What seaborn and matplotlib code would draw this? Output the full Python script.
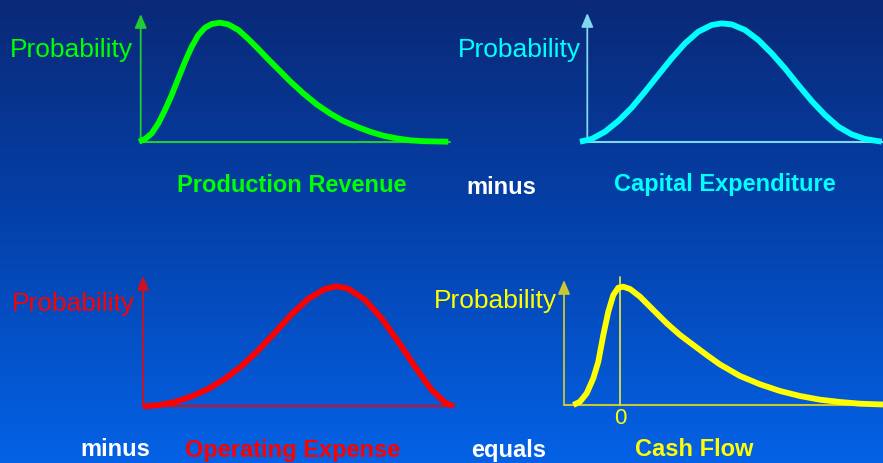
import numpy as np
import matplotlib
matplotlib.use("Agg")
import matplotlib.pyplot as plt
from matplotlib.colors import LinearSegmentedColormap
import seaborn as sns
import pandas as pd

sns.set_theme(style="white")
plt.rcParams['font.family'] = ['Liberation Sans', 'DejaVu Sans']

# ---------------- data ----------------
# Production Revenue (green)
rev_x = [-1.7, 4.3, 11, 17.6, 24.3, 31, 37.6, 44.3, 51, 57.6, 64.3, 71, 79.3, 87.6, 97.6, 107.6,
         117.6, 127.6, 137.6, 149.3, 162.6, 176, 189.3, 202.6, 216, 229.3, 242.6, 256, 269.3, 282.6, 307.6]
rev_y = [0, 2.7, 8.3, 18.3, 31.7, 46.7, 63.3, 80, 95, 106.7, 114, 117.7, 119, 117.3, 111.7, 102.7,
         92.7, 82.3, 72.3, 60.5, 48.3, 37.3, 28.3, 20.7, 15, 10, 6, 3.3, 1.4, 0.5, 0]

# Capital Expenditure (cyan)
cap_x = [-7.3, 4.4, 17.7, 31, 44.4, 57.7, 71, 84.4, 97.7, 111, 124.4, 134.4, 144.4, 157.7, 171,
         184.4, 197.7, 211, 224.4, 237.7, 251, 264.4, 277.7, 294.4]
cap_y = [0, 2.7, 10, 20.7, 34, 50, 66.7, 83.3, 98.3, 110, 116.7, 118.3, 117.3, 111.7, 101.7,
         88.3, 73.3, 56.7, 40.7, 26.7, 15, 7.3, 2.7, 0]

# Operating Expense (red)
opx_x = [0, 15, 31.7, 48.3, 65, 81.7, 98.3, 115, 131.7, 148.3, 165, 181.7, 193.3, 205, 221.7,
         238.3, 255, 271.7, 288.3, 301.7, 310]
opx_y = [0, 1, 4.3, 9.7, 17.3, 27.3, 40, 55.7, 73.3, 91.7, 107.3, 117.3, 120, 117.7, 106.7,
         88.3, 65, 40, 16.7, 4, 0]

# Cash Flow (yellow); the zero of cash flow sits at cf_zero
cf_x = [9.3, 16, 22.7, 29.3, 34.3, 39.3, 44.3, 49.3, 54.3, 59.3, 66, 76, 89.3, 102.7, 116, 129.3,
        142.7, 156, 176, 196, 216, 236, 256, 276, 296, 319]
cf_y = [0, 3.3, 11.7, 26.7, 43.3, 70, 93.3, 110, 117.3, 118.3, 116, 108.3, 95, 81.7, 70, 60,
        50, 40.5, 29, 20.7, 14, 9, 5.3, 3, 1.3, 0.5]
cf_zero = 56.3

labels = ["Production Revenue", "Capital Expenditure", "Operating Expense", "Cash Flow"]
ops = ["minus", "minus", "equals"]

W, H = 883, 463
fig = plt.figure(figsize=(W / 100, H / 100), dpi=100)

# background gradient
bg = fig.add_axes([0, 0, 1, 1])
cmap = LinearSegmentedColormap.from_list("bg", ["#0a2977", "#0442ad", "#0562e6"])
bg.imshow(np.linspace(0, 1, 256).reshape(-1, 1), aspect="auto", cmap=cmap,
          extent=[0, 1, 0, 1], origin="upper")
bg.set_axis_off()


def px_axes(left, top, right, bottom):
    return fig.add_axes([left / W, 1 - bottom / H, (right - left) / W, (bottom - top) / H])


def panel(box, x, y, color, axcolor, ymax, xmin=0):
    ax = px_axes(*box)
    ax.set_facecolor("none")
    df = pd.DataFrame({"x": x, "y": y})
    sns.lineplot(data=df, x="x", y="y", ax=ax, color=color, lw=4.2, estimator=None,
                 sort=False, clip_on=False, solid_capstyle="butt", solid_joinstyle="round", zorder=5)
    xmax = box[2] - box[0] + xmin
    ax.set_xlim(xmin, xmax)
    ax.set_ylim(0, ymax)
    ax.axhline(0, color=axcolor, lw=1.5, zorder=2, clip_on=False)
    ax.annotate("", xy=(0, ymax), xytext=(0, 0), xycoords="data",
                arrowprops=dict(arrowstyle="-|>,head_length=0.7,head_width=0.3",
                                color=axcolor, lw=1.3, shrinkA=0, shrinkB=0),
                annotation_clip=False)
    ax.set_axis_off()
    return ax


# panels: box = (left, top, right, bottom) in pixels
panel((140.7, 14, 450, 141.7), rev_x, rev_y, "#00ff00", "#22cc33", 127.7)
panel((587.3, 13, 883, 141.7), cap_x, cap_y, "#00ffff", "#7fd8f0", 128.7)
panel((143, 276, 455, 406.3), opx_x, opx_y, "#ff0000", "#d01020", 130.3)
axcf = panel((564, 280, 883, 405), cf_x, cf_y, "#ffff00", "#c8c832", 125, xmin=0)
axcf.plot([cf_zero, cf_zero], [0, 128.3], color="#e0e040", lw=1.3, clip_on=False, zorder=3)


def ftext(x, y, s, color, size, weight="normal", ha="left"):
    fig.text(x / W, 1 - y / H, s, color=color, fontsize=size, fontweight=weight,
             ha=ha, va="center")


ftext(10, 50, "Probability", "#00ff00", 19)
ftext(458, 50, "Probability", "#00ffff", 19)
ftext(12, 304, "Probability", "#ff0000", 19)
ftext(434, 301, "Probability", "#ffff00", 19)
ftext(620, 418, "0", "#ffff00", 16, ha="center")

ftext(292, 185, labels[0], "#00ff00", 17, "bold", "center")
ftext(725, 184, labels[1], "#00ffff", 17, "bold", "center")
ftext(293, 451, labels[2], "#ff0000", 17, "bold", "center")
ftext(694, 450, labels[3], "#ffff00", 17, "bold", "center")

ftext(501, 187, ops[0], "white", 17, "bold", "center")
ftext(115, 450, ops[1], "white", 17, "bold", "center")
ftext(509, 451, ops[2], "white", 17, "bold", "center")

fig.savefig("out.png", dpi=100)
